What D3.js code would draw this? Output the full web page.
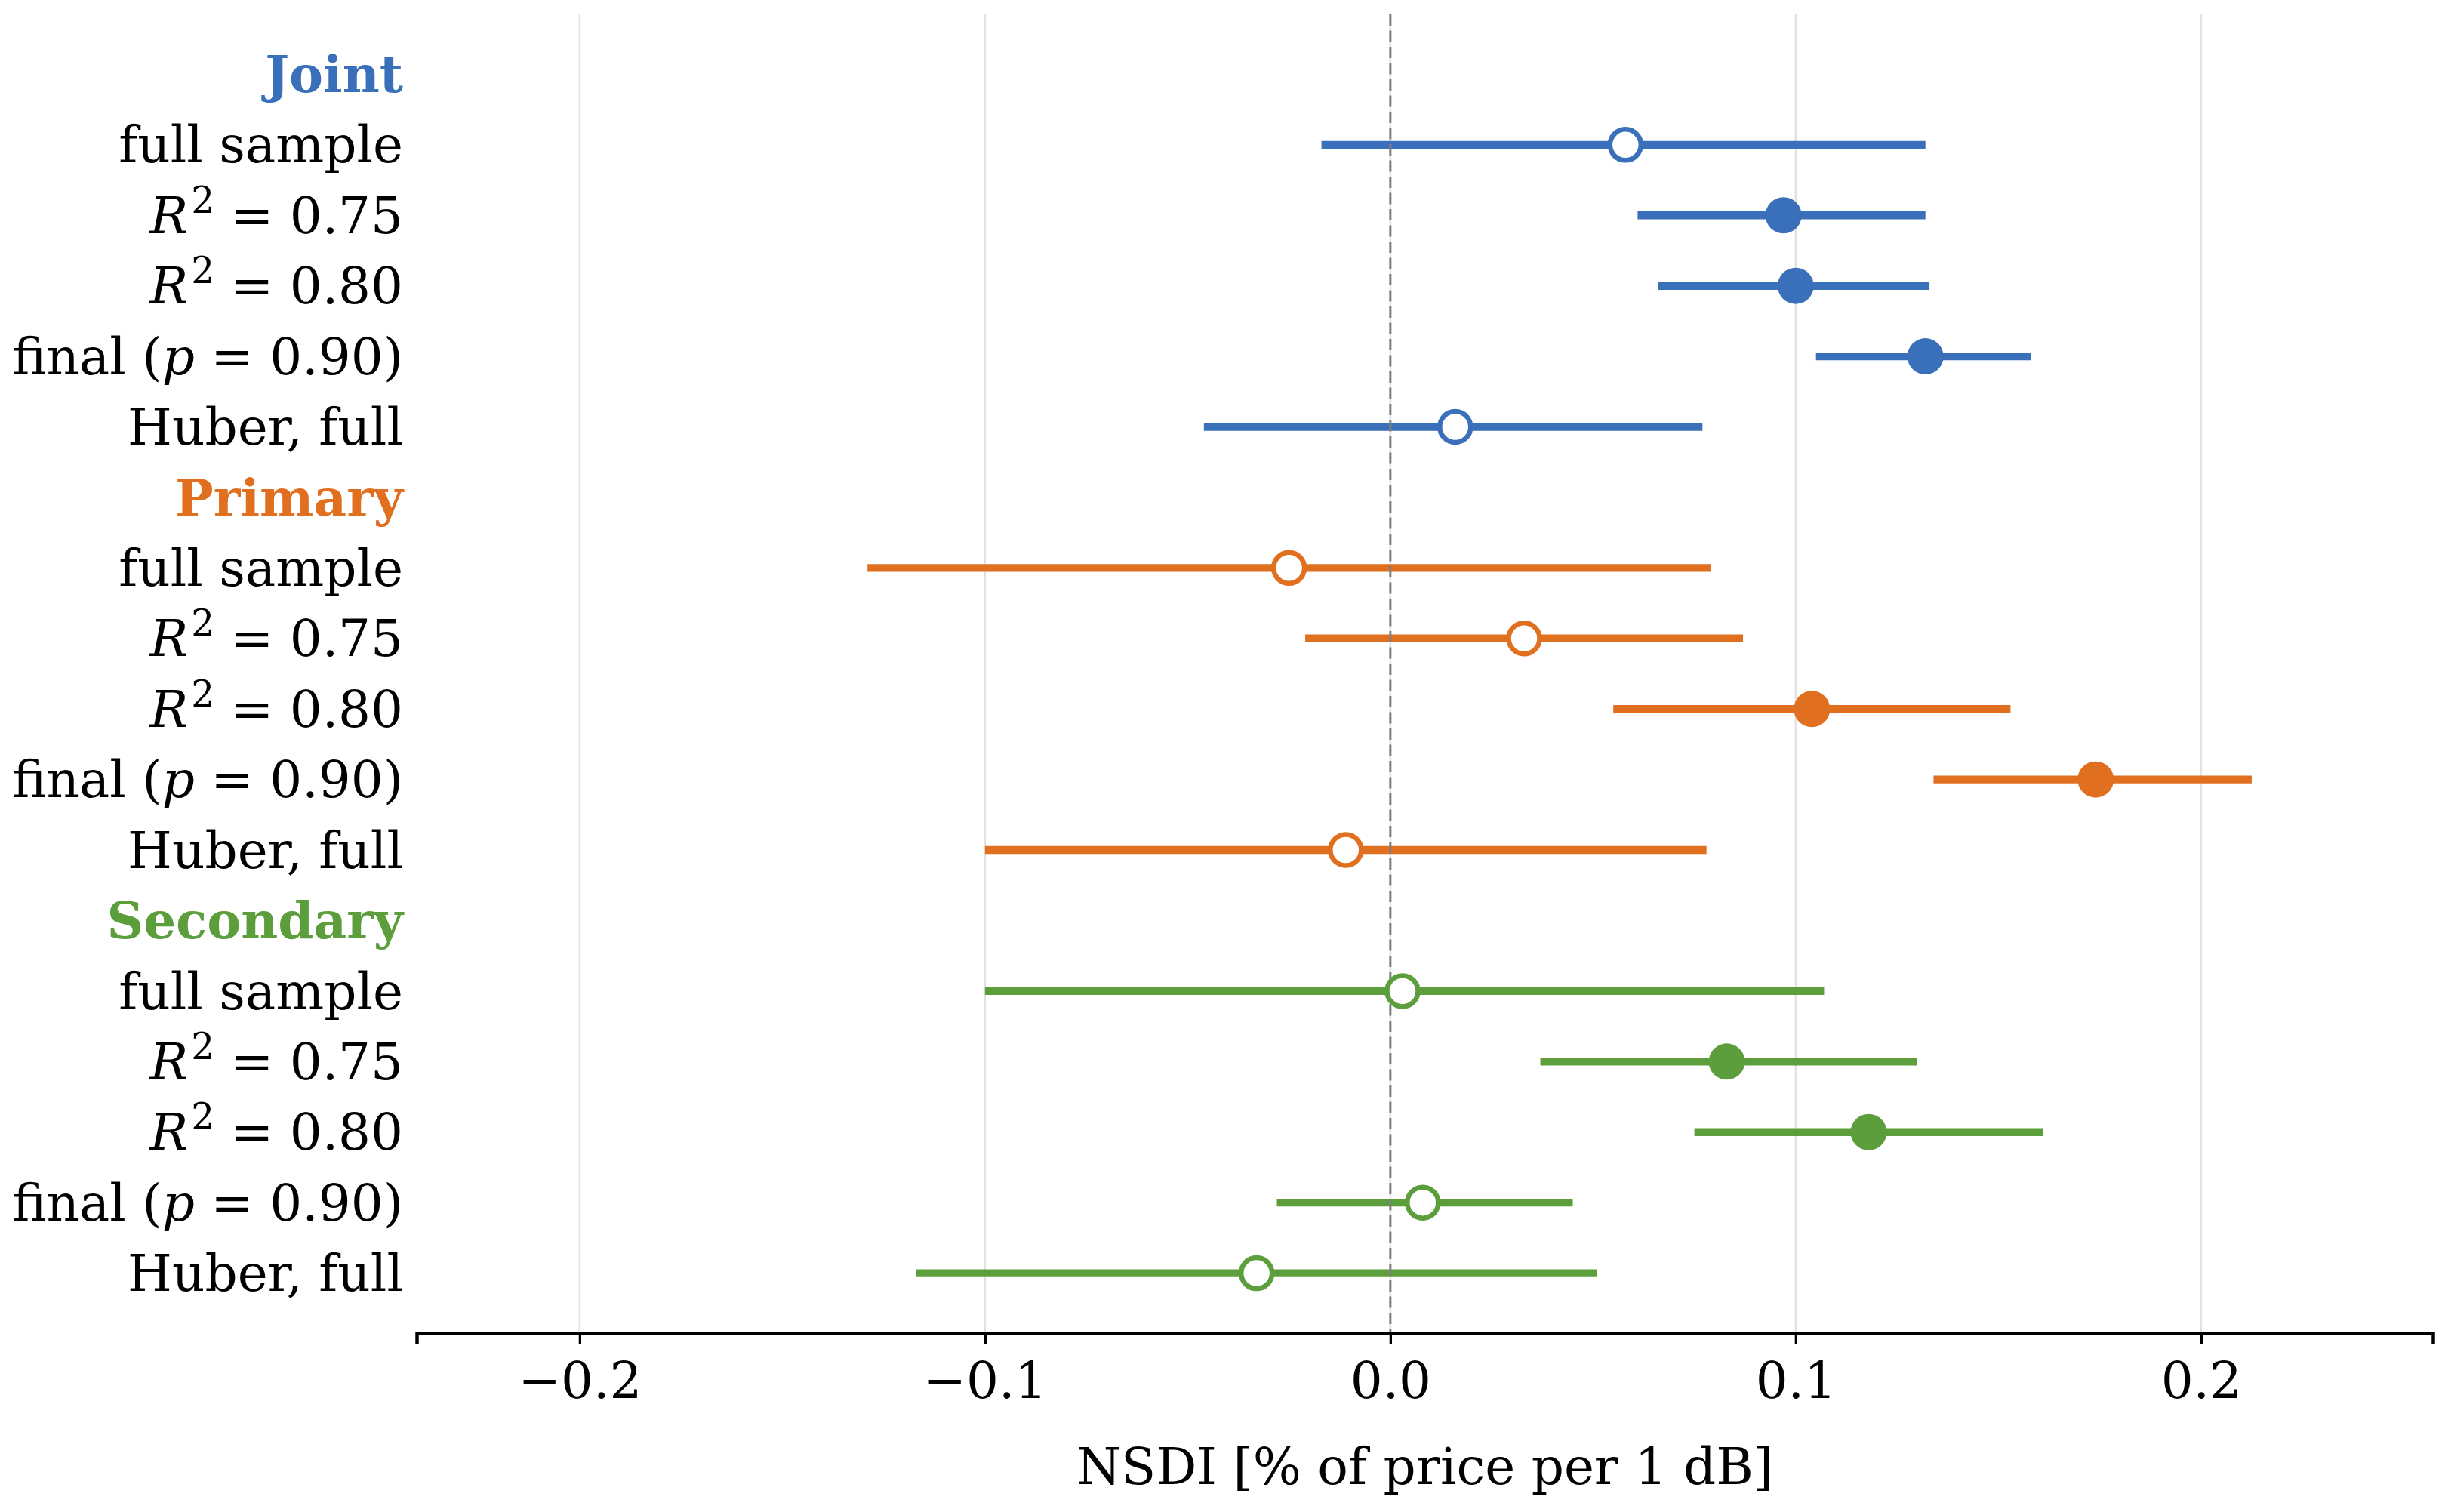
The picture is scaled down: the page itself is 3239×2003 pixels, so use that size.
<!DOCTYPE html>
<html>
<head>
<meta charset="utf-8">
<script src="https://cdn.jsdelivr.net/npm/d3@7"></script>
<style>
  body { margin: 0; background: #fff; }
  svg { display: block; font-family: "DejaVu Serif", serif; }
</style>
</head>
<body>
<svg id="chart" width="3239" height="2003"></svg>
<script>
// Data
const groups = ["Joint", "Primary", "Secondary"];
const groupColors = ["#3a6fba", "#e0701f", "#5c9e3c"];
const specLabels = ["full sample", "$R^2$ = 0.75", "$R^2$ = 0.80", "final ($p$ = 0.90)", "Huber, full"];

const jointEst = [0.058, 0.097, 0.100, 0.132, 0.016];
const jointLo  = [-0.017, 0.061, 0.066, 0.105, -0.046];
const jointHi  = [0.132, 0.132, 0.133, 0.158, 0.077];
const jointSig = [false, true, true, true, false];

const primaryEst = [-0.025, 0.033, 0.104, 0.174, -0.011];
const primaryLo  = [-0.129, -0.021, 0.055, 0.134, -0.100];
const primaryHi  = [0.079, 0.087, 0.153, 0.2125, 0.078];
const primarySig = [false, false, true, true, false];

const secondaryEst = [0.003, 0.083, 0.118, 0.008, -0.033];
const secondaryLo  = [-0.100, 0.037, 0.075, -0.028, -0.117];
const secondaryHi  = [0.107, 0.130, 0.161, 0.045, 0.051];
const secondarySig = [false, true, true, false, false];

const xTicks = [-0.2, -0.1, 0.0, 0.1, 0.2];
const xLabel = "NSDI [% of price per 1 dB]";

// Build rows: header row then the five specifications per group
const est = [jointEst, primaryEst, secondaryEst];
const lo = [jointLo, primaryLo, secondaryLo];
const hi = [jointHi, primaryHi, secondaryHi];
const sig = [jointSig, primarySig, secondarySig];

let rows = [];
groups.forEach((g, gi) => {
	rows.push({header: true, label: g, color: groupColors[gi]});
	specLabels.forEach((s, si) => {
		rows.push({header: false, label: s, color: groupColors[gi],
			est: est[gi][si], lo: lo[gi][si], hi: hi[gi][si], sig: sig[gi][si]});
	});
});
rows.forEach((r, i) => r.i = i);
const points = rows.filter(r => !r.header);

// Layout
const plotLeft = 552, plotRight = 3223, plotTop = 19, plotBottom = 1766;
const fontSize = 67.5;

const x = d3.scaleLinear().domain([-0.2402, 0.2572]).range([plotLeft, plotRight]);
const y = d3.scaleLinear().domain([-0.85, rows.length - 1 + 0.85]).range([plotTop, plotBottom]);

const svg = d3.select("#chart");

// vertical grid
svg.append("g")
	.selectAll("line")
	.data(xTicks)
	.enter()
	.append("line")
		.attr("x1", d => x(d)).attr("x2", d => x(d))
		.attr("y1", plotTop).attr("y2", plotBottom)
		.attr("stroke", "#e2e2e2")
		.attr("stroke-width", 2.5);

// error bars
svg.append("g")
	.selectAll("line")
	.data(points)
	.enter()
	.append("line")
		.attr("x1", d => x(d.lo)).attr("x2", d => x(d.hi))
		.attr("y1", d => y(d.i)).attr("y2", d => y(d.i))
		.attr("stroke", d => d.color)
		.attr("stroke-width", 10.4);

// zero reference line
svg.append("line")
	.attr("x1", x(0)).attr("x2", x(0))
	.attr("y1", plotTop).attr("y2", plotBottom)
	.attr("stroke", "#7f7f7f")
	.attr("stroke-width", 3)
	.attr("stroke-dasharray", "15,6.5");

// point estimates: filled = significant, open = not
svg.append("g")
	.selectAll("circle")
	.data(points)
	.enter()
	.append("circle")
		.attr("cx", d => x(d.est))
		.attr("cy", d => y(d.i))
		.attr("r", d => d.sig ? 24 : 20.5)
		.attr("fill", d => d.sig ? d.color : "#fff")
		.attr("stroke", d => d.sig ? "none" : d.color)
		.attr("stroke-width", 6.5);

// x axis
const xAxis = svg.append("g")
	.attr("transform", `translate(0,${plotBottom})`)
	.call(d3.axisBottom(x)
		.tickValues(xTicks)
		.tickFormat(d3.format(".1f"))
		.tickSizeOuter(0)
		.tickSize(15)
		.tickPadding(23));

xAxis.select(".domain").attr("stroke", "#000").attr("stroke-width", 4.5);
xAxis.selectAll(".tick line").attr("stroke", "#000").attr("stroke-width", 3.3);
xAxis.selectAll(".tick text")
	.attr("fill", "#000")
	.style("font-family", "DejaVu Serif")
	.style("font-size", fontSize + "px");

svg.append("text")
	.attr("x", (plotLeft + plotRight) / 2)
	.attr("y", 1966)
	.attr("text-anchor", "middle")
	.style("font-size", fontSize + "px")
	.text(xLabel);

// y labels, with a tiny $...$ parser for italics and superscripts
const supShift = 27;
function addLabel(sel, label) {
	const parts = label.split("$");
	let shift = 0;
	parts.forEach((p, k) => {
		if (k % 2 === 0) {
			if (p.length) {
				sel.append("tspan").attr("dy", shift).text(p);
				shift = 0;
			}
		} else {
			const m = p.split("^");
			sel.append("tspan").attr("dy", shift).style("font-style", "italic").text(m[0]);
			shift = 0;
			if (m[1]) {
				sel.append("tspan")
					.attr("dy", -supShift)
					.attr("dx", 4)
					.style("font-size", (fontSize * 0.72) + "px")
					.text(m[1]);
				shift = supShift;
			}
		}
	});
}

svg.append("g")
	.selectAll("text")
	.data(rows)
	.enter()
	.append("text")
		.attr("x", 534)
		.attr("y", d => y(d.i) + 0.35 * fontSize)
		.attr("text-anchor", "end")
		.attr("fill", d => d.header ? d.color : "#000")
		.style("font-weight", d => d.header ? "bold" : "normal")
		.style("font-size", fontSize + "px")
		.each(function(d) { addLabel(d3.select(this), d.label); });
</script>
</body>
</html>
